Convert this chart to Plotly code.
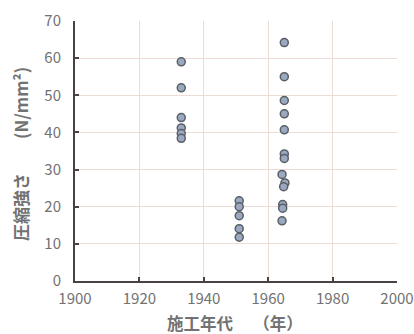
import plotly.graph_objects as go

years_1930s = [1933, 1933, 1933, 1933, 1933, 1933]
vals_1930s = [59, 52, 44, 41.2, 39.7, 38.4]
years_1950s = [1951, 1951, 1951, 1951, 1951]
vals_1950s = [21.6, 20, 17.6, 14.1, 11.8]
years_1960s = [1965, 1965, 1965, 1965, 1965, 1965, 1965, 1964.3, 1965.2, 1964.8, 1964.5, 1964.5, 1964.3]
vals_1960s = [64.2, 55, 48.6, 45, 40.7, 34.2, 33, 28.7, 26.4, 25.4, 20.6, 19.6, 16.2]

x = years_1930s + years_1950s + years_1960s
y = vals_1930s + vals_1950s + vals_1960s

x_ticks = [1900, 1920, 1940, 1960, 1980, 2000]
y_ticks = [0, 10, 20, 30, 40, 50, 60, 70]

x_title = "施工年代　 （年）"
y_title = "圧縮強さ　　(N/mm²)"

font_family = "Noto Sans CJK JP, Noto Sans, sans-serif"
text_color = "#727272"

fig = go.Figure()
fig.add_trace(go.Scatter(
    x=x, y=y, mode="markers",
    marker=dict(size=8, color="#9aa9c0", line=dict(color="#5a5e66", width=1.5)),
    showlegend=False,
))

fig.update_layout(
    width=414, height=334,
    margin=dict(l=75, r=17, t=21, b=53),
    paper_bgcolor="white", plot_bgcolor="white",
    font=dict(family=font_family, color=text_color, size=15),
)
axis_common = dict(
    showgrid=True, gridcolor="#eddcd6", gridwidth=1.2,
    showline=True, linecolor="#4a4240", linewidth=2,
    ticks="inside", ticklen=4, tickcolor="#4a4240", tickwidth=2,
    zeroline=False, automargin=False, ticklabeloverflow="allow",
    tickfont=dict(size=15, color=text_color),
)
fig.update_xaxes(range=[1900, 2000], tickvals=x_ticks,
                 ticktext=[str(v) for v in x_ticks], ticklabelstandoff=3,
                 **axis_common)
fig.update_yaxes(range=[0, 70], tickvals=y_ticks, ticklabelstandoff=9,
                 **axis_common)

fig.add_annotation(
    text=x_title, xref="paper", yref="paper", x=0.5, y=0,
    xanchor="center", yanchor="middle",
    yshift=-42, xshift=-1, showarrow=False,
    font=dict(size=16.5, color=text_color, weight="bold"),
)
fig.add_annotation(
    text=y_title, xref="paper", yref="paper", x=0, y=0.5,
    xanchor="center", yanchor="middle",
    xshift=-55, yshift=-3, textangle=-90, showarrow=False,
    font=dict(size=17, color=text_color, weight="bold"),
)

fig.write_html("out.html", config={"displayModeBar": False},
               post_script="document.body.style.margin='0';")
